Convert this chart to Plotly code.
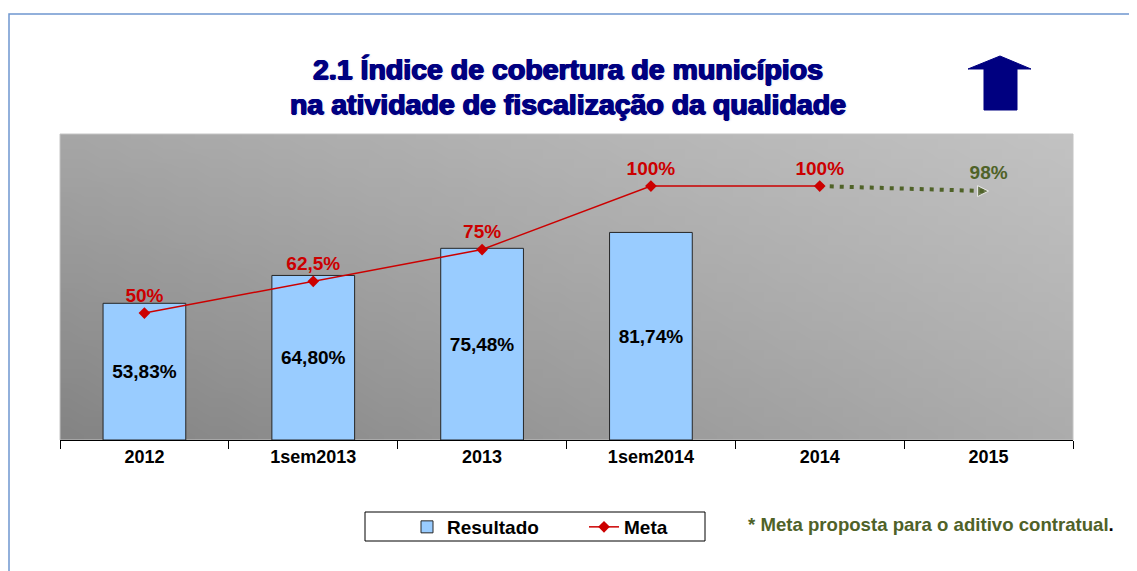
import base64, struct, zlib
import plotly.graph_objects as go

categories = ["2012", "1sem2013", "2013", "1sem2014", "2014", "2015"]
resultado = [53.83, 64.80, 75.48, 81.74, None, None]
resultado_labels = ["53,83%", "64,80%", "75,48%", "81,74%", "", ""]
meta = [50, 62.5, 75, 100, 100, None]
meta_labels = ["50%", "62,5%", "75%", "100%", "100%", ""]
proposta_cats = ["2014", "2015"]
proposta = [100, 98]
proposta_labels = ["", "98%"]

W, H = 1137, 571
OFF = 8  # page body margin
L, R, T, B = 60 - OFF, 1073 - OFF, 134 - OFF, 440 - OFF  # plot area in figure pixels


def px(x):
    return (x - OFF - L) / (R - L)


def py(y):
    return (B - (y - OFF)) / (B - T)


# gradient background image (style only)
def gradient_png(w=64, h=32, tl=166, tr=194, bl=132, br=172):
    rows = b""
    for j in range(h):
        fy = j / (h - 1)
        row = b"\x00"
        for i in range(w):
            fx = i / (w - 1)
            top = tl + (tr - tl) * fx
            bot = bl + (br - bl) * fx
            v = int(round(top + (bot - top) * fy))
            row += bytes([v, v, v])
        rows += row

    def chunk(t, d):
        c = struct.pack(">I", len(d)) + t + d
        return c + struct.pack(">I", zlib.crc32(t + d) & 0xFFFFFFFF)

    png = b"\x89PNG\r\n\x1a\n"
    png += chunk(b"IHDR", struct.pack(">IIBBBBB", w, h, 8, 2, 0, 0, 0))
    png += chunk(b"IDAT", zlib.compress(rows, 9))
    png += chunk(b"IEND", b"")
    return "data:image/png;base64," + base64.b64encode(png).decode()


FONT = "Liberation Sans, Arial, sans-serif"
RED = "#cc0000"
GREEN = "#4f6228"
NAVY = "#000080"

fig = go.Figure()
fig.add_trace(go.Bar(
    x=categories, y=resultado, name="Resultado",
    marker=dict(color="#99ccff", line=dict(color="#262626", width=1)),
    text=resultado_labels, textposition="inside", insidetextanchor="middle",
    textfont=dict(family=FONT, size=19, color="black", weight="bold"),
    textangle=0, hoverinfo="skip",
))
fig.add_trace(go.Scatter(
    x=proposta_cats, y=proposta, mode="lines+markers+text", showlegend=False,
    line=dict(color=GREEN, width=4, dash="4px,6px"),
    marker=dict(symbol=["circle", "arrow-right"], size=[0, 11], color=GREEN),
    text=proposta_labels, textposition="top center",
    textfont=dict(family=FONT, size=19, color=GREEN, weight="bold"),
))
fig.add_trace(go.Scatter(
    x=categories, y=meta, mode="lines+markers+text", name="Meta",
    line=dict(color=RED, width=1.5),
    marker=dict(symbol="diamond", size=9, color=RED),
    text=meta_labels, textposition="top center",
    textfont=dict(family=FONT, size=19, color=RED, weight="bold"),
))

shapes = [
    # outer blue frame (top and left)
    dict(type="rect", xref="paper", yref="paper", x0=px(9), x1=px(1300),
         y0=py(800), y1=py(14), line=dict(color="#6f97cf", width=1.5),
         fillcolor="rgba(0,0,0,0)", layer="below"),
    # plot area outline
    dict(type="rect", xref="paper", yref="paper", x0=0, x1=1, y0=0, y1=1,
         line=dict(color="#c4c4c4", width=1), layer="below"),
    # legend box
    dict(type="rect", xref="paper", yref="paper", x0=px(365), x1=px(705),
         y0=py(541), y1=py(512), line=dict(color="black", width=1),
         fillcolor="white", layer="below"),
]
# up arrow decoration
arrow_pts = [(1000, 56), (1031, 69), (1017, 69), (1017, 110), (984, 110), (984, 69), (968, 69)]
path = "M " + " L ".join(f"{px(a):.5f},{py(b):.5f}" for a, b in arrow_pts) + " Z"
shapes.append(dict(type="path", xref="paper", yref="paper", path=path,
                   fillcolor=NAVY, line=dict(color=NAVY, width=1)))

title_shadow = (f"0.8px 0 0 {NAVY}, -0.8px 0 0 {NAVY}, 0 0.6px 0 {NAVY}, "
                "1px 1px 2px rgba(140,140,210,0.5)")
annotations = [
    dict(text="2.1 Índice de cobertura de municípios", x=px(568), y=py(69),
         xref="paper", yref="paper", showarrow=False, xanchor="center", yanchor="middle",
         font=dict(family=FONT, size=28.5, color=NAVY, weight="bold", shadow=title_shadow)),
    dict(text="na atividade de fiscalização da qualidade", x=px(568), y=py(104),
         xref="paper", yref="paper", showarrow=False, xanchor="center", yanchor="middle",
         font=dict(family=FONT, size=28.5, color=NAVY, weight="bold", shadow=title_shadow)),
    dict(text="* Meta proposta para o aditivo contratual<span style='color:black'>.</span>",
         x=px(746), y=py(524), xref="paper", yref="paper", showarrow=False,
         xanchor="left", yanchor="middle",
         font=dict(family="Liberation Sans Narrow, Liberation Sans, Arial", size=18.6,
                   color=GREEN, weight="bold")),
]

fig.update_layout(
    width=W, height=H,
    margin=dict(l=L, r=W - R, t=T, b=H - B, pad=0),
    paper_bgcolor="white", plot_bgcolor="rgba(0,0,0,0)",
    bargap=0.51,
    showlegend=True,
    legend=dict(orientation="h", xanchor="left", yanchor="middle",
                x=px(407), y=py(527), bgcolor="rgba(0,0,0,0)",
                borderwidth=0, font=dict(family=FONT, size=19, color="black", weight="bold"),
                entrywidth=132, itemwidth=30, traceorder="normal"),
    images=[dict(source=gradient_png(), xref="paper", yref="paper", x=0, y=1,
                 sizex=1, sizey=1, sizing="stretch", layer="below", xanchor="left",
                 yanchor="top")],
    shapes=shapes,
    annotations=annotations,
    xaxis=dict(showline=True, linecolor="black", linewidth=1, ticks="outside",
               ticklen=8, tickcolor="black", tickson="boundaries", showgrid=False,
               tickfont=dict(family=FONT, size=18, color="black", weight="bold"),
               fixedrange=True),
    yaxis=dict(range=[0, 120.5], visible=False, showgrid=False, fixedrange=True),
)

fig.write_html("out.html")
